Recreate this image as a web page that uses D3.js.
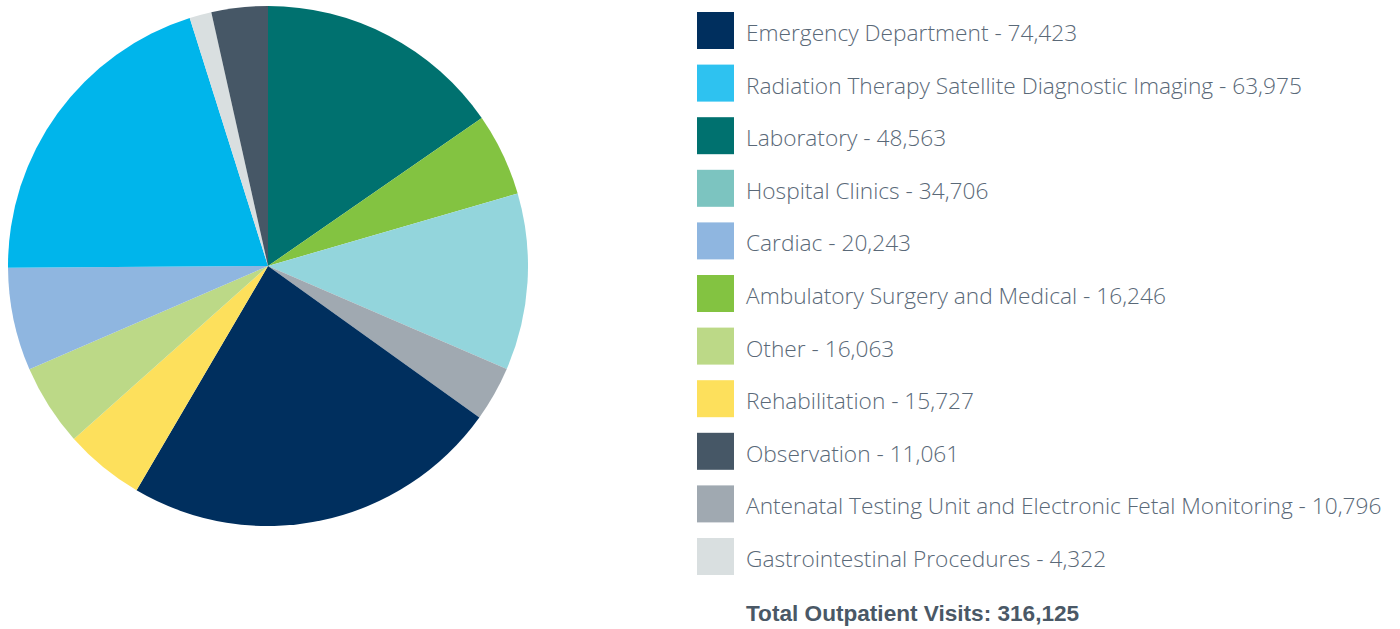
<!DOCTYPE html>
<html>
<head>
<meta charset="utf-8">
<style>
    body { margin: 0; background: #fff; }
    svg { display: block; }
    .legend text {
        font-family: 'Open Sans', 'Liberation Sans', sans-serif;
        font-weight: 300;
        font-size: 22.7px;
        fill: #5a6978;
    }
    .total {
        font-family: 'Liberation Sans', Arial, sans-serif;
        font-weight: bold;
        font-size: 22.6px;
        fill: #4a5866;
    }
</style>
</head>
<body>
<svg width="1400" height="629"></svg>

<script src="https://d3js.org/d3.v7.min.js"></script>
<script>
    // legend order
    let categories = [
        "Emergency Department",
        "Radiation Therapy Satellite Diagnostic Imaging",
        "Laboratory",
        "Hospital Clinics",
        "Cardiac",
        "Ambulatory Surgery and Medical",
        "Other",
        "Rehabilitation",
        "Observation",
        "Antenatal Testing Unit and Electronic Fetal Monitoring",
        "Gastrointestinal Procedures"
    ]
    let visits = [74423, 63975, 48563, 34706, 20243, 16246, 16063, 15727, 11061, 10796, 4322]
    let legendColors = ["#002f5e", "#2ec2f0", "#00716f", "#7cc4c0", "#8fb6e0", "#83c341", "#bcd987", "#fde05c", "#465766", "#a0a9b1", "#d9dfe0"]
    let sliceColors = ["#002f5e", "#00b5eb", "#00716f", "#93d5dc", "#8fb6e0", "#83c341", "#bcd987", "#fde05c", "#465766", "#a0a9b1", "#d9dfe0"]

    // order the slices go round the pie, clockwise from 12 o'clock
    let pieOrder = ["Laboratory", "Ambulatory Surgery and Medical", "Hospital Clinics",
        "Antenatal Testing Unit and Electronic Fetal Monitoring", "Emergency Department",
        "Rehabilitation", "Other", "Cardiac", "Radiation Therapy Satellite Diagnostic Imaging",
        "Gastrointestinal Procedures", "Observation"]

    let totalLabel = "Total Outpatient Visits: "

    let svg = d3.select("svg")

    let data = categories.map(function (c, i) {
        return { name: c, value: visits[i], legendColor: legendColors[i], sliceColor: sliceColors[i] }
    })

    let pieData = pieOrder.map(function (n) {
        return data.find(d => d.name == n)
    })

    let cx = 268, cy = 266, radius = 260

    let pie = d3.pie()
        .sort(null)
        .value(d => d.value)

    let arc = d3.arc()
        .innerRadius(0)
        .outerRadius(radius)

    svg.append("g")
        .attr("transform", `translate(${cx},${cy})`)
        .selectAll("path")
        .data(pie(pieData))
        .join("path")
        .attr("d", arc)
        .attr("fill", d => d.data.sliceColor)

    // legend
    let rowH = 52.6
    let y = d3.scaleLinear()
        .domain([0, 1])
        .range([12, 12 + rowH])

    let legend = svg.append("g")
        .attr("class", "legend")
        .selectAll("g")
        .data(data)
        .join("g")
        .attr("transform", (d, i) => `translate(697,${y(i)})`)

    legend.append("rect")
        .attr("width", 37)
        .attr("height", 37)
        .attr("fill", d => d.legendColor)

    legend.append("text")
        .attr("x", 49)
        .attr("y", 29)
        .text(d => d.name + " - " + d3.format(",")(d.value))

    let total = d3.sum(visits)

    svg.append("text")
        .attr("class", "total")
        .attr("x", 746)
        .attr("y", y(11) + 30.5)
        .text(totalLabel + d3.format(",")(total))
</script>
</body>
</html>
